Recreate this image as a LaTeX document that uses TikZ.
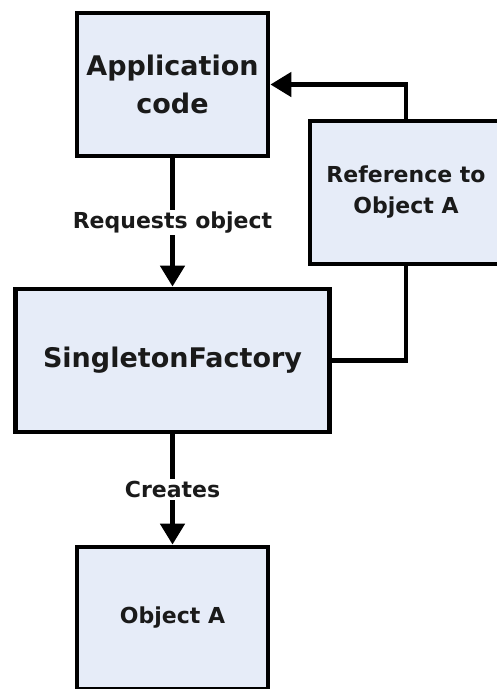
\documentclass[tikz,border=0pt]{standalone}
\usepackage{fontspec}
\setmainfont{DejaVu Sans}
\usetikzlibrary{arrows.meta}
\definecolor{boxfill}{RGB}{230,236,248}
\definecolor{inkgray}{RGB}{26,26,26}
\tikzset{
  block/.style={draw=black, fill=boxfill, line width=4.8pt, inner sep=0pt,
    align=center, text=inkgray, font=\bfseries\fontsize{27}{38}\selectfont},
  smallblock/.style={block, font=\bfseries\fontsize{22}{31}\selectfont},
  link/.style={draw=black, line width=4.8pt},
  arr/.style={link, -{Triangle[length=21pt,width=24pt]}},
  tag/.style={fill=white, text=inkgray, inner sep=2pt,
    font=\bfseries\fontsize{22}{26}\selectfont}
}
\begin{document}
\begin{tikzpicture}[x=1pt,y=-1pt]
            \clip (0,0) rectangle (497,689);
            \fill[white] (0,0) rectangle (497,689);
            % Boxes
            \node[block, minimum width=191pt, minimum height=143pt] (app) at (172.5,84.5) {Application\\code};
            \node[smallblock, minimum width=192pt, minimum height=143pt] (ref) at (406,192.5) {Reference to\\Object A};
            \node[block, minimum width=314pt, minimum height=143pt] (sf) at (172.5,360.5) {SingletonFactory};
            \node[smallblock, minimum width=191pt, minimum height=142pt] (obj) at (172.5,618) {Object A};
            % Requests and creation
            \draw[arr] (app.south) -- node[tag] {Requests object} (sf.north);
            \draw[arr] (sf.south) -- node[tag] {Creates} (obj.north);
            % Reference handed back to the application
            \draw[link] (sf.east) -| (ref.south);
            \draw[arr] (ref.north) |- (app.east);
        \end{tikzpicture}
\end{document}
